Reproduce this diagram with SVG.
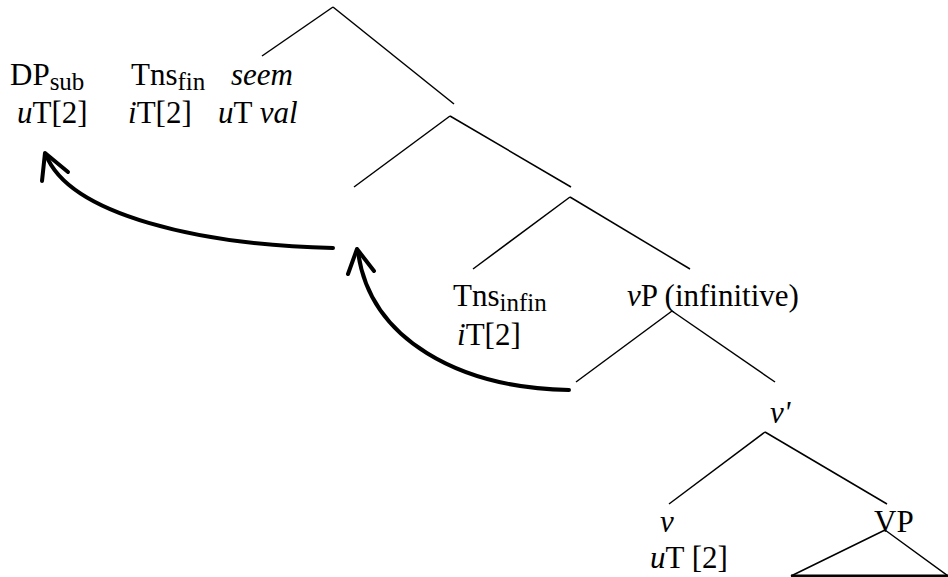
<svg xmlns="http://www.w3.org/2000/svg" width="948" height="577" viewBox="0 0 948 577">
<style>
.t{font-family:'Liberation Serif','Times New Roman',serif;font-size:31px;fill:#000}
.it{font-style:italic}
.sub{font-size:25px}
.br{stroke:#000;stroke-width:1.5;fill:none}
.mv{stroke:#000;stroke-width:4;fill:none;stroke-linecap:round;stroke-linejoin:round}
</style>
<rect width="948" height="577" fill="#fff"/>
<g id="connectors">
<line class="br" x1="333" y1="7" x2="262" y2="56"/>
<line class="br" x1="333" y1="7" x2="454" y2="104"/>
<line class="br" x1="450" y1="116" x2="354" y2="187"/>
<line class="br" x1="450" y1="116" x2="571" y2="187"/>
<line class="br" x1="570" y1="197" x2="473" y2="269"/>
<line class="br" x1="570" y1="197" x2="690" y2="269"/>
<line class="br" x1="672" y1="311" x2="576" y2="382"/>
<line class="br" x1="672" y1="311" x2="775" y2="382"/>
<line class="br" x1="765" y1="432" x2="669" y2="504"/>
<line class="br" x1="765" y1="432" x2="887" y2="504"/>
<polygon class="br" points="885,530 791,576 948,576"/>
<line x1="791" y1="576" x2="948" y2="576" stroke="#000" stroke-width="3"/>
<path class="mv" d="M333,248 C200,245 70,215 46,155"/>
<polyline class="mv" points="42,181 45,153 68,172"/>
<path class="mv" d="M569,390 C460,388 370,340 358,252"/>
<polyline class="mv" points="348,274 357,249 374,271"/>
</g>
<g class="t">
<g id="dp-sub"><text x="10" y="85">DP<tspan class="sub" dy="5">sub</tspan></text><text x="17" y="123"><tspan class="it">u</tspan>T[2]</text></g>
<g id="tns-fin"><text x="131" y="85">Tns<tspan class="sub" dy="5">fin</tspan></text><text x="128" y="123"><tspan class="it">i</tspan>T[2]</text></g>
<g id="seem"><text x="231" y="85" class="it">seem</text><text x="218" y="123"><tspan class="it">u</tspan>T <tspan class="it">val</tspan></text></g>
<g id="tns-infin"><text x="453" y="306">Tns<tspan class="sub" dy="5">infin</tspan></text><text x="457" y="345"><tspan class="it">i</tspan>T[2]</text></g>
<g id="vp-infinitive"><text x="627" y="306"><tspan class="it">v</tspan>P (infinitive)</text></g>
<g id="v-bar"><text x="770" y="423" class="it">v'</text></g>
<g id="v"><text x="660" y="532" class="it">v</text><text x="650" y="568"><tspan class="it">u</tspan>T [2]</text></g>
<g id="vp"><text x="874" y="532">VP</text></g>
</g>
</svg>
